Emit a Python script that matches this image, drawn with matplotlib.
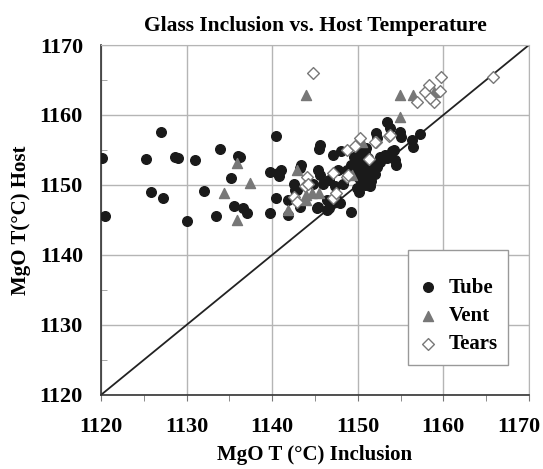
import numpy as np
import matplotlib.pyplot as plt
import matplotlib.transforms as mtransforms
from matplotlib.ticker import MultipleLocator

plt.rcParams['font.family'] = ['Liberation Serif', 'DejaVu Serif']
plt.rcParams['font.weight'] = 'bold'

# Tube samples (inclusion T, host T)
tube_x = [1120.1, 1120.5, 1125.3, 1125.8, 1127.0, 1127.2, 1128.6, 1129.0, 1130.0, 1131.0,
          1132.0, 1133.4, 1133.9, 1135.2, 1135.6, 1136.0, 1136.2, 1136.6, 1137.1, 1139.7,
          1139.8, 1140.4, 1140.4, 1141.0, 1140.8, 1141.9, 1141.9, 1142.5, 1140.7, 1143.4,
          1143.2, 1142.7, 1145.6, 1145.5, 1145.4, 1145.6, 1146.0, 1146.6, 1145.4, 1146.8,
          1146.6, 1147.5, 1147.9, 1149.2, 1144.8, 1143.2, 1142.9, 1153.4, 1153.8, 1154.9,
          1155.0, 1152.1, 1152.2, 1157.3, 1156.4, 1156.5, 1154.2, 1147.1, 1148.1, 1152.6,
          1153.2, 1153.4, 1154.5, 1154.3, 1152.6, 1154.0, 1145.2, 1146.4, 1146.4, 1147.3,
          1148.3, 1148.7, 1147.7, 1149.9, 1150.1, 1151.4, 1147.1,
          1149.5, 1149.8, 1150.0, 1150.2, 1150.4, 1150.5, 1150.6, 1150.8, 1150.8, 1151.0,
          1151.0, 1151.2, 1151.3, 1151.5, 1151.6, 1151.8, 1150.3, 1149.6, 1151.0, 1150.9,
          1152.0, 1152.3, 1151.4, 1149.2, 1150.0, 1150.7]
tube_y = [1153.8, 1145.5, 1153.7, 1149.0, 1157.5, 1148.2, 1154.0, 1153.8, 1144.9, 1153.5,
          1149.2, 1145.5, 1155.1, 1151.0, 1147.0, 1154.1, 1154.0, 1146.7, 1146.0, 1151.9,
          1146.0, 1157.0, 1148.2, 1152.1, 1151.3, 1147.9, 1145.7, 1150.1, 1151.7, 1152.9,
          1152.4, 1149.3, 1155.7, 1155.2, 1152.1, 1151.4, 1150.2, 1150.7, 1146.9, 1147.6,
          1146.7, 1148.1, 1147.4, 1146.2, 1150.2, 1146.9, 1149.3, 1159.0, 1158.1, 1157.6,
          1156.9, 1157.4, 1156.7, 1157.3, 1156.4, 1155.4, 1155.0, 1154.3, 1154.8, 1154.0,
          1154.3, 1153.8, 1152.9, 1153.6, 1153.3, 1154.8, 1146.7, 1147.9, 1146.4, 1149.8,
          1150.2, 1152.1, 1152.1, 1149.5, 1149.0, 1149.8, 1147.4,
          1151.5, 1152.5, 1153.5, 1151.0, 1150.5, 1152.0, 1153.0, 1154.5, 1151.5, 1150.8,
          1152.6, 1153.8, 1151.2, 1152.2, 1150.6, 1153.0, 1155.0, 1154.0, 1155.3, 1150.0,
          1151.5, 1152.5, 1150.7, 1152.8, 1151.8, 1153.2]

# Vent samples
vent_x = [1135.9, 1137.4, 1134.4, 1135.9, 1141.9, 1142.9, 1144.0, 1144.6, 1145.5, 1144.0,
          1144.0, 1154.9, 1156.5, 1154.9, 1158.9, 1150.5, 1149.3]
vent_y = [1153.1, 1150.3, 1148.9, 1145.0, 1146.4, 1152.1, 1148.6, 1148.8, 1148.8, 1147.9,
          1162.9, 1162.9, 1162.9, 1159.7, 1163.3, 1156.2, 1151.4]

# Tears samples
tears_x = [1144.8, 1150.3, 1152.1, 1153.6, 1148.7, 1149.7, 1151.3, 1147.1, 1144.1, 1148.7,
           1143.8, 1142.5, 1142.9, 1147.1, 1147.5, 1144.2, 1148.9, 1156.9, 1157.9, 1158.3,
           1159.7, 1158.9, 1158.5, 1159.6, 1165.8, 1153.8, 1152.0]
tears_y = [1166.0, 1156.7, 1156.1, 1157.0, 1155.0, 1155.5, 1153.7, 1151.7, 1151.2, 1151.2,
           1149.8, 1148.3, 1147.6, 1148.1, 1148.8, 1150.2, 1151.4, 1161.9, 1163.3, 1164.3,
           1165.4, 1161.9, 1162.5, 1163.5, 1165.4, 1157.1, 1156.2]

lim = (1120, 1170)
ticks = [1120, 1130, 1140, 1150, 1160, 1170]

fig = plt.figure(figsize=(5.43, 4.69), dpi=100)
ax = fig.add_axes([0.186, 0.158, 0.788, 0.746])

ax.plot(lim, lim, color='#222222', lw=1.3, zorder=2)
ax.scatter(tube_x, tube_y, s=48, marker='o', color='#1a1a1a', zorder=3, label='Tube')
ax.scatter(vent_x, vent_y, s=52, marker='^', color='#777777', zorder=4, label='Vent')
ax.scatter(tears_x, tears_y, s=36, marker='D', facecolor='white', edgecolor='#777777',
           linewidths=1.0, zorder=5, label='Tears')

ax.set_xlim(lim)
ax.set_ylim(lim)
ax.set_xticks(ticks)
ax.set_yticks(ticks)
ax.xaxis.set_minor_locator(MultipleLocator(5))
ax.yaxis.set_minor_locator(MultipleLocator(5))
ax.grid(True, which='major', color='#b5b5b5', lw=1.0, zorder=0)
ax.set_axisbelow(True)
ax.tick_params(axis='x', which='both', direction='out', length=4, color='#777777', labelbottom=False)
ax.tick_params(axis='y', which='major', direction='out', length=0, pad=13)
ax.tick_params(axis='y', which='minor', direction='in', length=4, color='#999999')
ax.set_yticklabels([str(t) for t in ticks], fontsize=16, fontweight='bold')
for sp in ['top', 'right']:
    ax.spines[sp].set_color('#b5b5b5')
for sp in ['left', 'bottom']:
    ax.spines[sp].set_color('#333333')
    ax.spines[sp].set_linewidth(1.2)

# x tick labels as plain texts so the last one can sit inside the figure
base = mtransforms.blended_transform_factory(ax.transData, ax.transAxes)
for t in ticks:
    shift = -10 if t == ticks[-1] else 0
    tr = base + mtransforms.ScaledTranslation(shift / 100, -32 / 100, fig.dpi_scale_trans)
    ax.text(t, 0, str(t), transform=tr, ha='center', va='center', fontsize=16,
            fontweight='bold', clip_on=False)

ax.set_title('Glass Inclusion vs. Host Temperature', fontsize=15.5, fontweight='bold', pad=10)
ax.text(0.5, -0.172, 'MgO T (°C) Inclusion', transform=ax.transAxes, ha='center', va='center',
        fontsize=15, fontweight='bold')
ax.set_ylabel('MgO T(°C) Host', fontsize=15, fontweight='bold', labelpad=6)

leg = ax.legend(loc='upper left', bbox_to_anchor=(0.717, 0.414), borderaxespad=0, fancybox=False,
                framealpha=1, edgecolor='#999999', prop={'size': 15, 'weight': 'bold'},
                handlelength=0.9, handletextpad=0.55, borderpad=0.5, labelspacing=0.4,
                title=' ', title_fontsize=7)
leg.get_frame().set_linewidth(1.0)

fig.savefig('out.png', dpi=100)
